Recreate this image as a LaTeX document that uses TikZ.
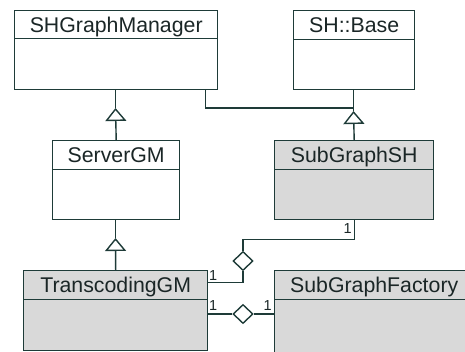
\documentclass[tikz,border=0pt]{standalone}
\usepackage{fontspec}
\setmainfont{Liberation Sans}
\usetikzlibrary{arrows.meta,shapes.geometric}
\definecolor{umlline}{HTML}{1E3B38}
\definecolor{umltext}{HTML}{1A2626}
\definecolor{umlfill}{HTML}{D9D9D9}
\tikzset{
  compart/.style={draw=umlline, line width=1.4pt, inner sep=0pt, anchor=north west,
    font=\fontsize{21.3}{22}\selectfont, text=umltext, text height=15.3pt, text depth=0pt},
  shaded/.style={fill=umlfill},
  conn/.style={draw=umlline, line width=1.4pt},
  gen/.style={conn, -{Triangle[open, length=13pt, width=21pt, line width=1.4pt]}},
  agg/.style={draw=umlline, line width=1.4pt, fill=white, shape=diamond, inner sep=0pt,
    minimum width=20pt, minimum height=19pt},
  mult/.style={font=\fontsize{14.5}{14.5}\selectfont, text=umltext, inner sep=0pt}
}
\begin{document}
\begin{tikzpicture}[x=1pt, y=-1pt]
  \useasboundingbox (0,0) rectangle (465,351);
  \clip (0,0) rectangle (465,351);

  % classes: title compartment + body compartment
  \node[compart, minimum width=203pt, minimum height=28pt] (shg-t) at (14,10) {SHGraphManager};
  \node[compart, minimum width=203pt, minimum height=51pt] (shg-b) at (14,38) {};

  \node[compart, minimum width=121pt, minimum height=29pt] (shb-t) at (293,10) {SH::Base};
  \node[compart, minimum width=121pt, minimum height=50pt] (shb-b) at (293,39) {};

  \node[compart, minimum width=127pt, minimum height=29pt] (sgm-t) at (52,140) {ServerGM};
  \node[compart, minimum width=127pt, minimum height=50pt] (sgm-b) at (52,169) {};

  \node[compart, shaded, minimum width=159pt, minimum height=29pt] (shsh-t) at (274,140) {SubGraphSH};
  \node[compart, shaded, minimum width=159pt, minimum height=50pt] (shsh-b) at (274,169) {};

  \node[compart, shaded, minimum width=184pt, minimum height=29pt] (tcg-t) at (23,270) {TranscodingGM};
  \node[compart, shaded, minimum width=184pt, minimum height=51pt] (tcg-b) at (23,299) {};

  \node[compart, shaded, minimum width=199pt, minimum height=29pt] (sgf-t) at (274,270) {SubGraphFactory};
  \node[compart, shaded, minimum width=199pt, minimum height=90pt] (sgf-b) at (274,299) {};

  % generalisation tips and junctions
  \coordinate (t1) at (115.5,108);
  \coordinate (t2) at (353.5,111);
  \coordinate (t3) at (115.5,238);
  \coordinate (jn) at (353.5,108);

  \draw[gen] (sgm-t.north) -- (t1);
  \draw[conn] (t1) -- (t1 |- shg-b.south);

  \draw[gen] (shsh-t.north) -- (t2);
  \draw[conn] (t2) -- (t2 |- shb-b.south);
  \draw[conn] ([xshift=89.5pt]shg-b.south) |- (jn);

  \draw[gen] (tcg-t.north) -- (t3);
  \draw[conn] (t3) -- (t3 |- sgm-b.south);

  % aggregations
  \node[agg] (d1) at (243,261) {};
  \node[agg] (d2) at (243,314) {};

  \draw[conn] (shsh-b.south) -- ++(0,19) -| (d1.north);
  \draw[conn] (d1.south) |- ([yshift=2.5pt]tcg-t.east);

  \draw[conn] (d2.west) -- (d2.west -| tcg-b.east);
  \draw[conn] (d2.east) -- (d2.east -| sgf-b.west);

  % multiplicities
  \node[mult, anchor=south east] (m1) at (352,234) {1};
  \node[mult, anchor=south west] (m2) at (209,281) {1};
  \node[mult, anchor=south west] (m3) at (209,311) {1};
  \node[mult, anchor=south east] (m4) at (272,311) {1};
\end{tikzpicture}
\end{document}
